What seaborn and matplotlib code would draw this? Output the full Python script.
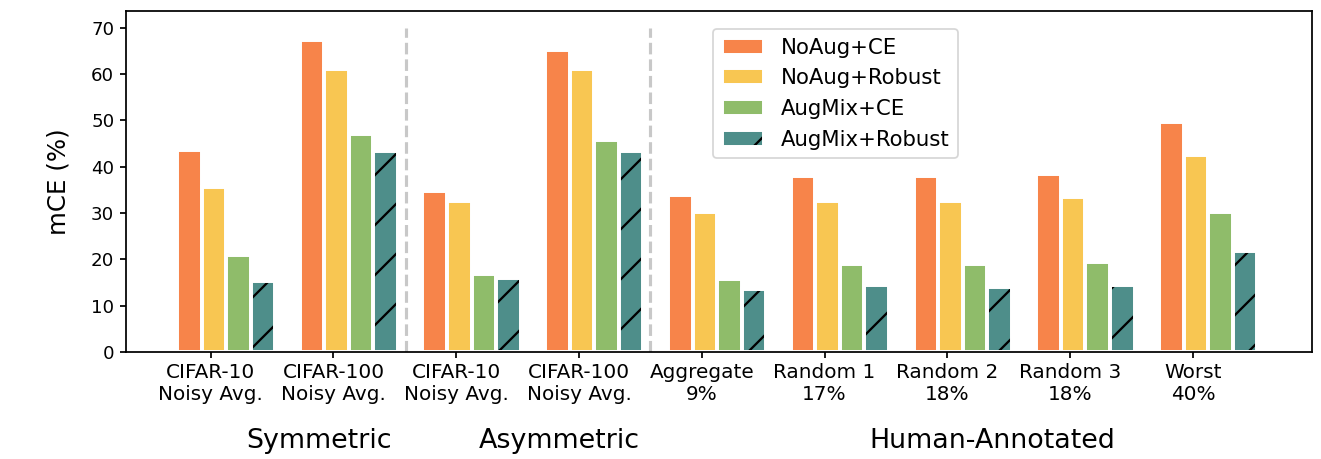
import numpy as np
import pandas as pd
import matplotlib
matplotlib.use("Agg")
import matplotlib.pyplot as plt
import matplotlib.colors as mcolors
import seaborn as sns

# ---------------- data ----------------
categories = ["CIFAR-10\nNoisy Avg.", "CIFAR-100\nNoisy Avg.",
              "CIFAR-10\nNoisy Avg.", "CIFAR-100\nNoisy Avg.",
              "Aggregate\n9%", "Random 1\n17%", "Random 2\n18%",
              "Random 3\n18%", "Worst\n40%"]
series = ["NoAug+CE", "NoAug+Robust", "AugMix+CE", "AugMix+Robust"]
noaug_ce = [43.5, 67.4, 34.8, 65.1, 33.9, 37.9, 37.9, 38.4, 49.7]
noaug_robust = [35.7, 61.0, 32.6, 61.0, 30.3, 32.6, 32.6, 33.4, 42.5]
augmix_ce = [20.9, 47.0, 16.8, 45.7, 15.8, 19.0, 19.0, 19.4, 30.3]
augmix_robust = [15.4, 43.4, 15.9, 43.4, 13.6, 14.5, 14.0, 14.5, 21.7]
group_names = ["Symmetric", "Asymmetric", "Human-Annotated"]
colors = ["#F7844A", "#F8C652", "#8FBC6A", "#4E8E8A"]

values = [noaug_ce, noaug_robust, augmix_ce, augmix_robust]

# ---------------- styling (rendered at 300 dpi) ----------------
DPI = 300
plt.rcParams.update({
    "axes.linewidth": 0.42,
    "xtick.major.width": 0.42,
    "ytick.major.width": 0.42,
    "xtick.major.size": 1.5,
    "ytick.major.size": 1.5,
    "xtick.major.pad": 1.2,
    "ytick.major.pad": 1.3,
    "hatch.linewidth": 0.55,
    "legend.fontsize": 5.1,
    "font.family": ["DejaVu Sans"],
})

rows = []
for s, vals in zip(series, values):
    for i, v in enumerate(vals):
        rows.append({"pos": i + 0.125, "series": s, "mCE": v})
df = pd.DataFrame(rows)

fig = plt.figure(figsize=(1321 / DPI, 459 / DPI), dpi=DPI)
ax = fig.add_axes([126 / 1321, 1 - 352 / 459, (1312 - 126) / 1321, (352 - 11) / 459])

sns.barplot(data=df, x="pos", y="mCE", hue="series", hue_order=series,
            palette=colors, saturation=1, native_scale=True, errorbar=None,
            width=0.8, edgecolor="white", linewidth=0.95, legend=False, ax=ax)

# hatch on the last series
black = mcolors.to_rgba("black")
for p in ax.containers[3].patches:
    p.set_hatch("//")
    if hasattr(p, "set_hatchcolor"):
        p.set_hatchcolor("black")
    else:
        p._hatch_color = black

# separators
ax.vlines([1.59, 3.58], 0, 70, colors="#c8c8c8", linestyles="--", linewidth=0.75, zorder=0.5)

ax.set_xlim(-0.69, 8.97)
ax.set_ylim(0, 73.6)
ax.set_xticks(np.arange(len(categories)))
ax.set_xticklabels(categories, fontsize=4.8)
ax.set_yticks(np.arange(0, 71, 10))
ax.tick_params(axis="y", labelsize=4.4)
ax.set_xlabel("")
ax.set_ylabel("mCE (%)", fontsize=5.9)
ax.yaxis.set_label_coords(-0.047, 0.5)

# group labels
trans = matplotlib.transforms.blended_transform_factory(ax.transData, ax.transAxes)
for name, xc in zip(group_names, [0.88, 2.84, 6.37]):
    ax.text(xc, -0.262, name, transform=trans, ha="center", va="center", fontsize=6.45)

handles = [c.patches[0] for c in ax.containers]
leg = ax.legend(handles, series, loc="upper left", bbox_to_anchor=(0.486, 0.978),
                frameon=True, handlelength=2.0, handleheight=0.85)
leg.get_frame().set_linewidth(0.42)

fig.savefig("out.png", dpi=DPI)
